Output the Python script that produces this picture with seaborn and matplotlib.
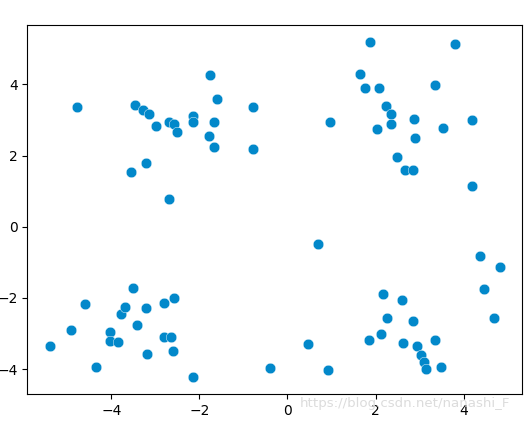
import matplotlib
matplotlib.use("Agg")
import matplotlib.pyplot as plt
import seaborn as sns

# Points, one list per quadrant cluster
x_upper_left = [-4.79, -3.46, -3.29, -3.15, -2.98, -2.70, -2.57, -2.52, -2.14, -2.14,
                -1.75, -1.61, -1.68, -1.79, -1.68, -0.79, -0.79, -3.56, -3.21, -2.69]
y_upper_left = [3.35, 3.41, 3.28, 3.18, 2.84, 2.94, 2.88, 2.65, 3.10, 2.94,
                4.25, 3.58, 2.93, 2.54, 2.23, 3.35, 2.17, 1.53, 1.78, 0.77]

x_upper_right = [1.88, 3.80, 1.65, 1.77, 2.09, 3.34, 2.24, 2.34, 2.34, 2.04,
                 0.97, 2.88, 2.90, 3.54, 4.20, 2.49, 2.67, 2.84, 4.20]
y_upper_right = [5.18, 5.13, 4.29, 3.89, 3.89, 3.97, 3.38, 3.18, 2.88, 2.74,
                 2.93, 3.04, 2.48, 2.76, 3.00, 1.96, 1.58, 1.58, 1.14]

x_lower_left = [-5.40, -4.92, -4.61, -4.35, -4.03, -4.03, -3.85, -3.78, -3.68, -3.50,
                -3.41, -3.22, -3.19, -2.81, -2.57, -2.81, -2.65, -2.60, -2.14]
y_lower_left = [-3.36, -2.90, -2.18, -3.95, -2.97, -3.22, -3.25, -2.44, -2.27, -1.73,
                -2.77, -2.29, -3.59, -2.15, -2.01, -3.11, -3.11, -3.50, -4.22]

x_lower_right = [-0.39, 0.70, 0.46, 0.93, 1.86, 2.18, 2.13, 2.26, 2.59, 2.63, 2.84,
                 2.95, 3.04, 3.09, 3.15, 3.36, 3.49, 4.38, 4.83, 4.47, 4.68]
y_lower_right = [-3.98, -0.49, -3.30, -4.03, -3.18, -1.90, -3.01, -2.57, -2.07, -3.28, -2.66,
                 -3.35, -3.61, -3.81, -4.00, -3.18, -3.94, -0.82, -1.14, -1.75, -2.56]

xs = x_upper_left + x_upper_right + x_lower_left + x_lower_right
ys = y_upper_left + y_upper_right + y_lower_left + y_lower_right

fig = plt.figure(figsize=(5.29, 4.23), dpi=100)
ax = fig.add_axes([0.0516, 0.0678, 0.9346, 0.8724])

sns.scatterplot(x=xs, y=ys, color="#0288CA", s=58, edgecolor="white", linewidth=0.3, ax=ax)

ax.set_xlim(-5.91, 5.32)
ax.set_ylim(-4.71, 5.66)
ax.set_xticks([-4, -2, 0, 2, 4])
ax.set_yticks([-4, -2, 0, 2, 4])

# blog watermark
fig.text(0.567, 0.045, "https://blog.csdn.net/nanashi_F", color="#dcdcdc",
         fontsize=9.6, va="center", ha="left")

fig.savefig("out.png", dpi=100)
